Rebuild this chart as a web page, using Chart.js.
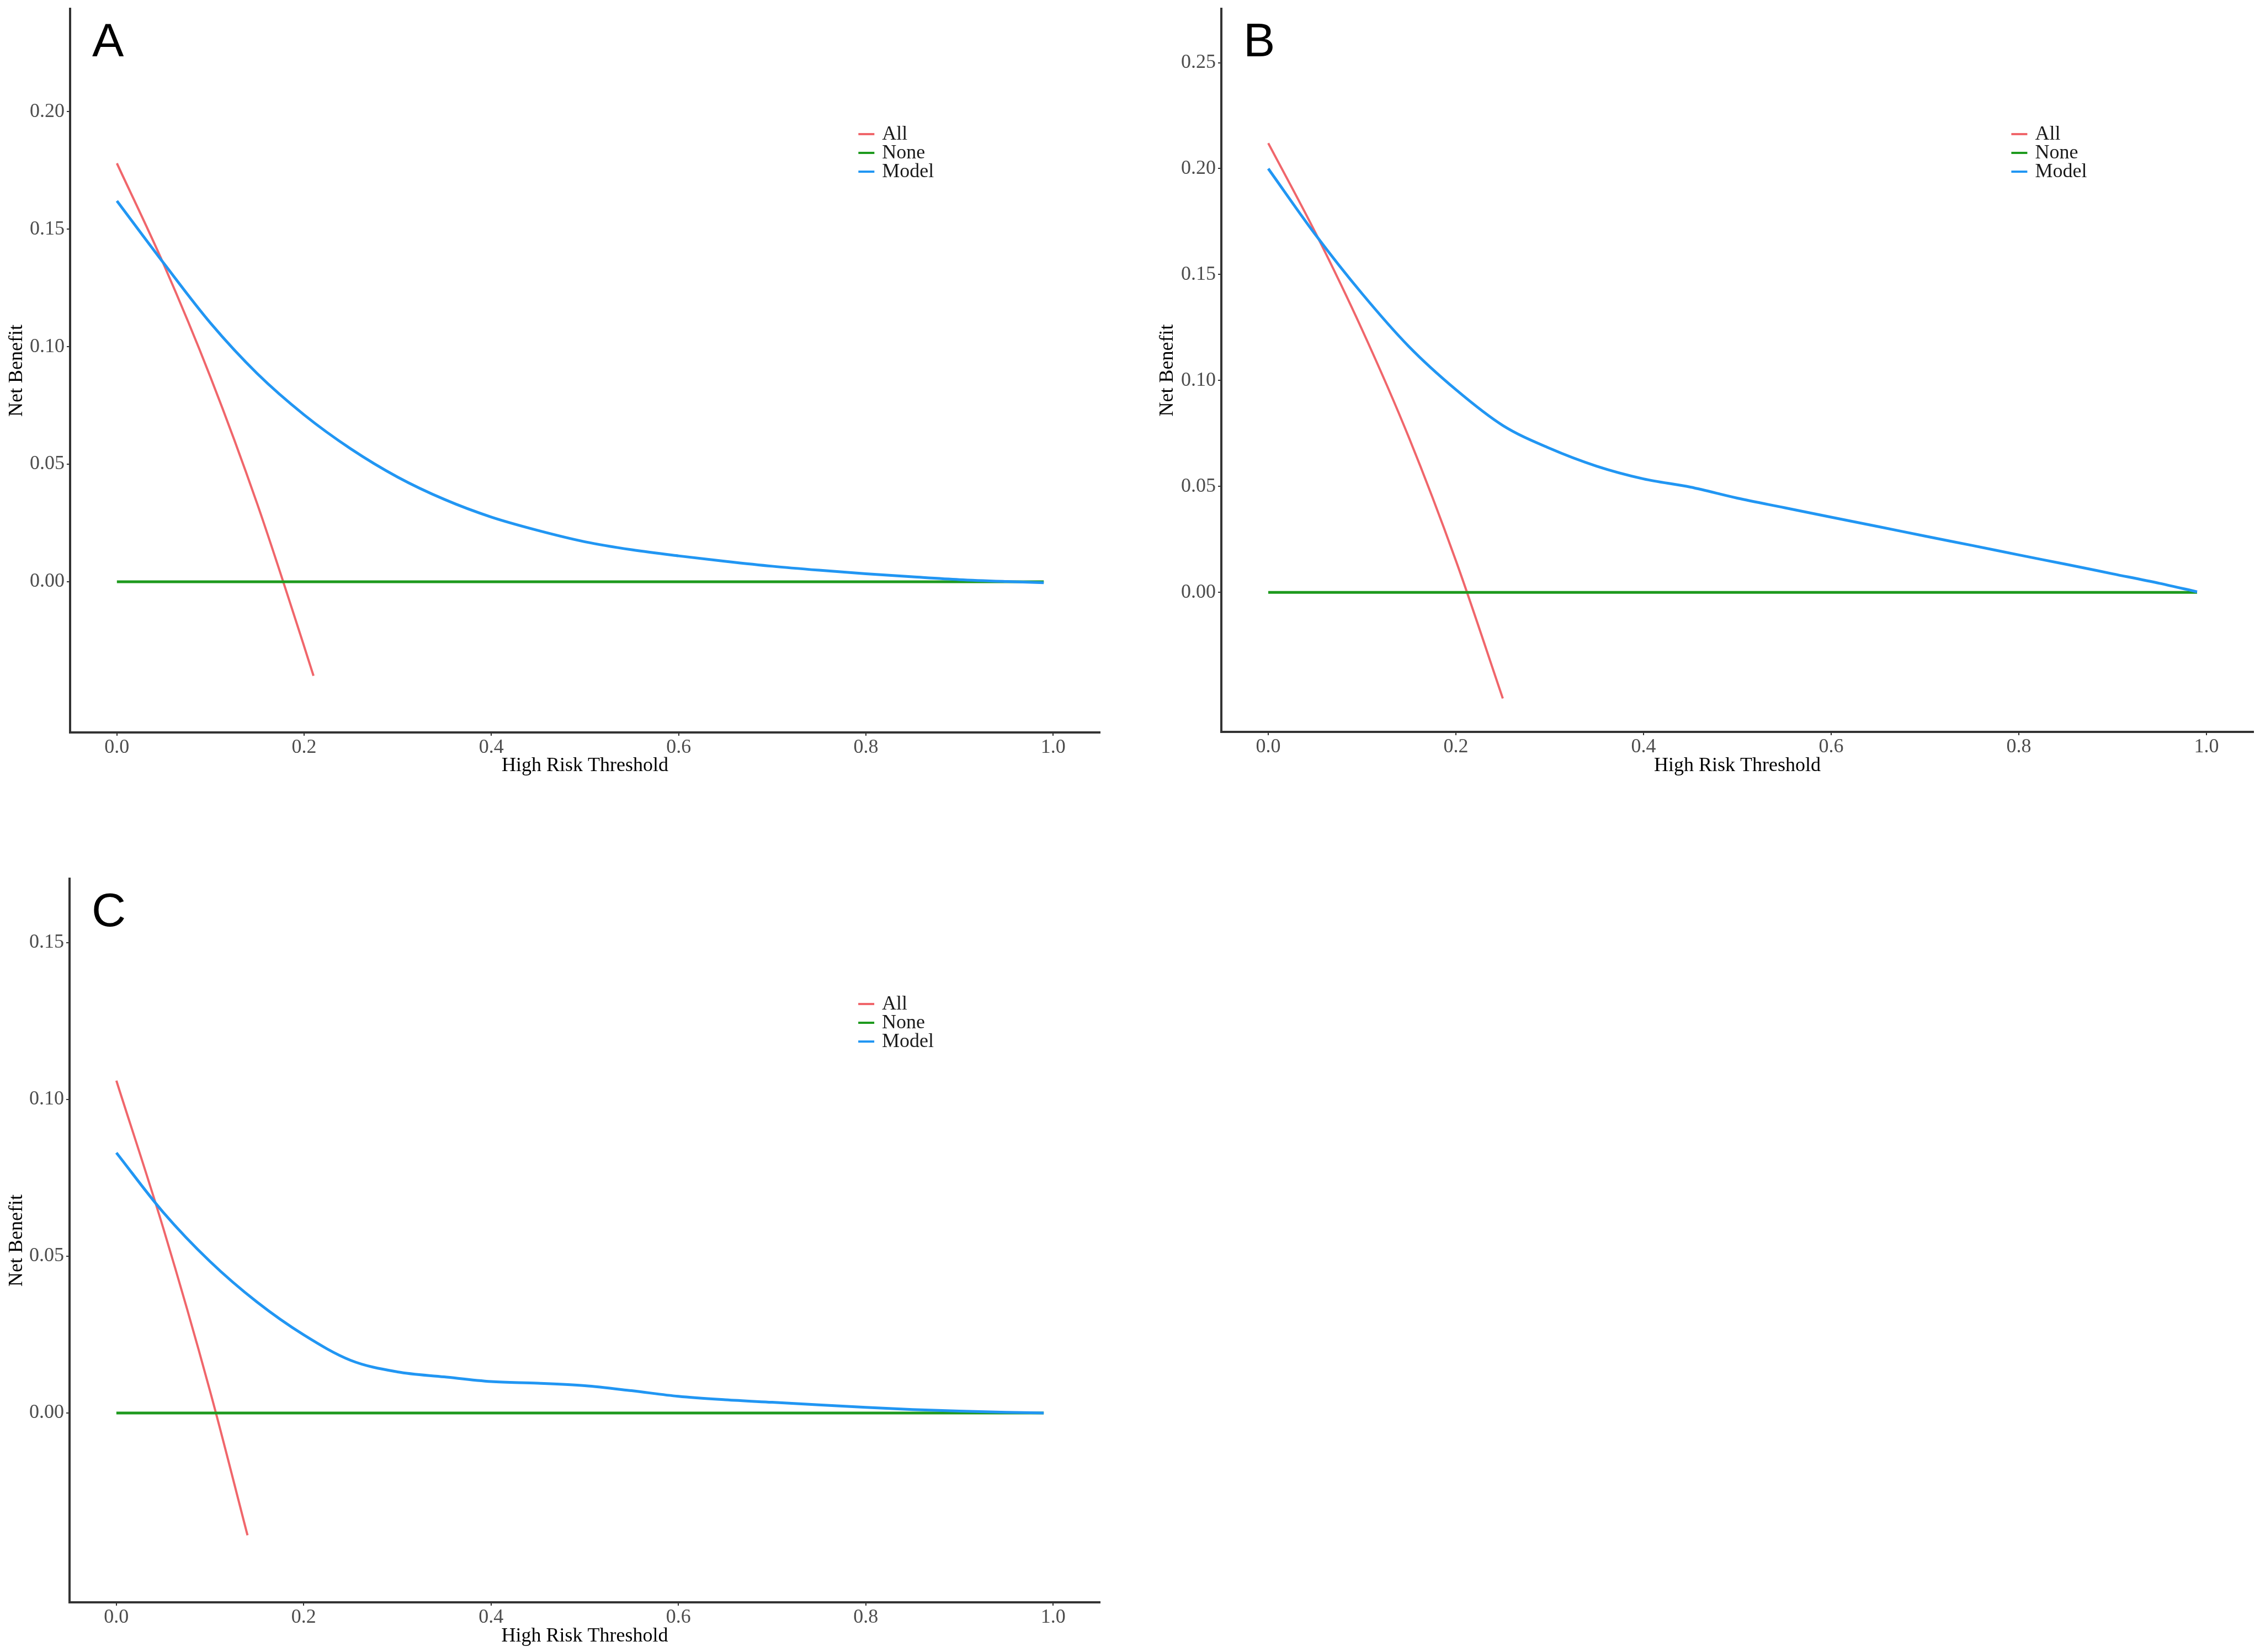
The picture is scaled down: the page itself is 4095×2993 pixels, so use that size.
<!DOCTYPE html>
<html>
<head>
<meta charset="utf-8">
<script src="https://cdn.jsdelivr.net/npm/chart.js@4.4.1/dist/chart.umd.min.js"></script>
<style>
  body { margin: 0; background: #fff; }
  .panel { position: absolute; }
</style>
</head>
<body>
<div class="panel" style="left:0px;top:0px;width:2050px;height:1450px"><canvas id="chartA"></canvas></div>
<div class="panel" style="left:2050px;top:0px;width:2045px;height:1450px"><canvas id="chartB"></canvas></div>
<div class="panel" style="left:0px;top:1450px;width:2050px;height:1543px"><canvas id="chartC"></canvas></div>
<script>
var thresholds = [0, 0.05, 0.10, 0.15, 0.20, 0.25, 0.30, 0.35, 0.40, 0.45, 0.50,
                  0.55, 0.60, 0.65, 0.70, 0.75, 0.80, 0.85, 0.90, 0.95, 0.99];
var noneThr = [0, 0.99];
var noneNB = [0, 0];

// panel A
var allThrA = [0, 0.05, 0.10, 0.15, 0.20, 0.21];
var allA    = [0.178, 0.135, 0.087, 0.033, -0.0275, -0.040];
var modelA  = [0.162, 0.1355, 0.110, 0.0885, 0.071, 0.0565, 0.0445, 0.0350, 0.0275, 0.0218, 0.0170,
               0.0136, 0.0110, 0.0087, 0.0066, 0.0049, 0.0034, 0.0021, 0.0009, 0.0001, -0.0004];
// panel B
var allThrB = [0, 0.05, 0.10, 0.15, 0.20, 0.25];
var allB    = [0.212, 0.170, 0.124, 0.073, 0.015, -0.050];
var modelB  = [0.200, 0.169, 0.141, 0.116, 0.0957, 0.0788, 0.068, 0.0596, 0.0536, 0.0497, 0.0445,
               0.0400, 0.0355, 0.0311, 0.0266, 0.0222, 0.0177, 0.0133, 0.0088, 0.0043, 0.0003];
// panel C
var allThrC = [0, 0.05, 0.10, 0.14];
var allC    = [0.106, 0.059, 0.007, -0.039];
var modelC  = [0.083, 0.064, 0.0483, 0.0354, 0.0249, 0.0168, 0.0131, 0.0115, 0.0100, 0.0095, 0.0087,
               0.0071, 0.0053, 0.0042, 0.0034, 0.0026, 0.0018, 0.0011, 0.0006, 0.0002, 0.0000];

var xTicks  = [0, 0.2, 0.4, 0.6, 0.8, 1.0];
var yTicksA = [0, 0.05, 0.10, 0.15, 0.20];
var yTicksB = [0, 0.05, 0.10, 0.15, 0.20, 0.25];
var yTicksC = [0, 0.05, 0.10, 0.15];

var serif = '"Liberation Serif", "Times New Roman", serif';

function toPoints(xs, ys){
  return xs.map(function(x, i){ return {x: x, y: ys[i]}; });
}

// panel letter + legend drawn inside the plot like the ggplot original
var panelDeco = {
  id: 'panelDeco',
  afterDraw: function(chart, args, opts){
    var c = chart.ctx, area = chart.chartArea;
    c.save();
    c.fillStyle = '#000';
    c.font = '86px "Liberation Sans", Arial, sans-serif';
    c.textBaseline = 'alphabetic';
    c.textAlign = 'left';
    c.fillText(opts.letter, area.left + 40, area.top + 86);

    var keyX = chart.scales.x.getPixelForValue(0.792);
    c.font = '36px ' + serif;
    c.textBaseline = 'middle';
    chart.data.datasets.forEach(function(ds, i){
      var y = area.top + 227 + i * 34;
      c.strokeStyle = ds.borderColor;
      c.lineWidth = 4;
      c.beginPath();
      c.moveTo(keyX, y);
      c.lineTo(keyX + 29, y);
      c.stroke();
      c.fillStyle = '#1a1a1a';
      c.fillText(ds.label, keyX + 43, y + 1);
    });
    c.restore();
  }
};

function drawDcaChart(id_name, letter, allX, allY, modelY, yMin, yMax, yTicks, box){
  var ctx = document.getElementById(id_name).getContext('2d');
  return new Chart(ctx, {
    type: 'line',
    plugins: [panelDeco],
    data: {
      datasets: [{
        label: 'All',
        data: toPoints(allX, allY),
        borderColor: '#F0666B',
        borderWidth: 4,
        pointRadius: 0,
        cubicInterpolationMode: 'monotone',
        order: 2
      },{
        label: 'None',
        data: toPoints(noneThr, noneNB),
        borderColor: '#1E9A1E',
        borderWidth: 5,
        pointRadius: 0,
        order: 1
      },{
        label: 'Model',
        data: toPoints(thresholds, modelY),
        borderColor: '#2196F3',
        borderWidth: 5,
        pointRadius: 0,
        cubicInterpolationMode: 'monotone',
        order: 0
      }]
    },
    options: {
      responsive: true,
      maintainAspectRatio: false,
      animation: false,
      devicePixelRatio: 1,
      layout: {
        padding: { top: box.top, right: box.right, left: 0, bottom: 0 }
      },
      scales: {
        x: {
          type: 'linear',
          min: -0.05,
          max: 1.05,
          afterFit: function(s){ s.height = box.xh; },
          afterBuildTicks: function(s){ s.ticks = xTicks.map(function(v){ return {value: v}; }); },
          ticks: {
            color: '#4D4D4D',
            padding: 0,
            font: { family: serif, size: 36 },
            callback: function(v){ return Number(v).toFixed(1); }
          },
          grid: { drawOnChartArea: false, tickLength: 6, color: '#333', lineWidth: 2 },
          border: { color: '#333', width: 4 },
          title: {
            display: true,
            text: 'High Risk Threshold',
            color: '#000',
            font: { family: serif, size: 36 },
            padding: { top: 0, bottom: box.xtPad }
          }
        },
        y: {
          type: 'linear',
          min: yMin,
          max: yMax,
          afterFit: function(s){
            s.width = box.yw;
            s.paddingTop = 0;     // ticks sit far from the ends, no extra room needed
            s.paddingBottom = 0;
          },
          afterBuildTicks: function(s){ s.ticks = yTicks.map(function(v){ return {value: v}; }); },
          ticks: {
            color: '#4D4D4D',
            padding: 4,
            font: { family: serif, size: 36 },
            callback: function(v){ return Number(v).toFixed(2); }
          },
          grid: { drawOnChartArea: false, tickLength: 6, color: '#333', lineWidth: 2 },
          border: { color: '#333', width: 4 },
          title: {
            display: true,
            text: 'Net Benefit',
            color: '#000',
            font: { family: serif, size: 36 },
            padding: { top: box.ytPad, bottom: 0 }
          }
        }
      },
      plugins: {
        legend: { display: false },
        tooltip: { enabled: false },
        panelDeco: { letter: letter }
      }
    }
  });
}

drawDcaChart('chartA', 'A', allThrA, allA, modelA, -0.0641, 0.2437, yTicksA,
  { top: 16, right: 57, xh: 123, yw: 127, xtPad: 41, ytPad: 9 });
drawDcaChart('chartB', 'B', allThrB, allB, modelB, -0.0658, 0.2754, yTicksB,
  { top: 16, right: 12, xh: 124, yw: 163, xtPad: 41, ytPad: 44 });
drawDcaChart('chartC', 'C', allThrC, allC, modelC, -0.0604, 0.1704, yTicksC,
  { top: 142, right: 57, xh: 90, yw: 126, xtPad: 7, ytPad: 9 });
</script>
</body>
</html>
